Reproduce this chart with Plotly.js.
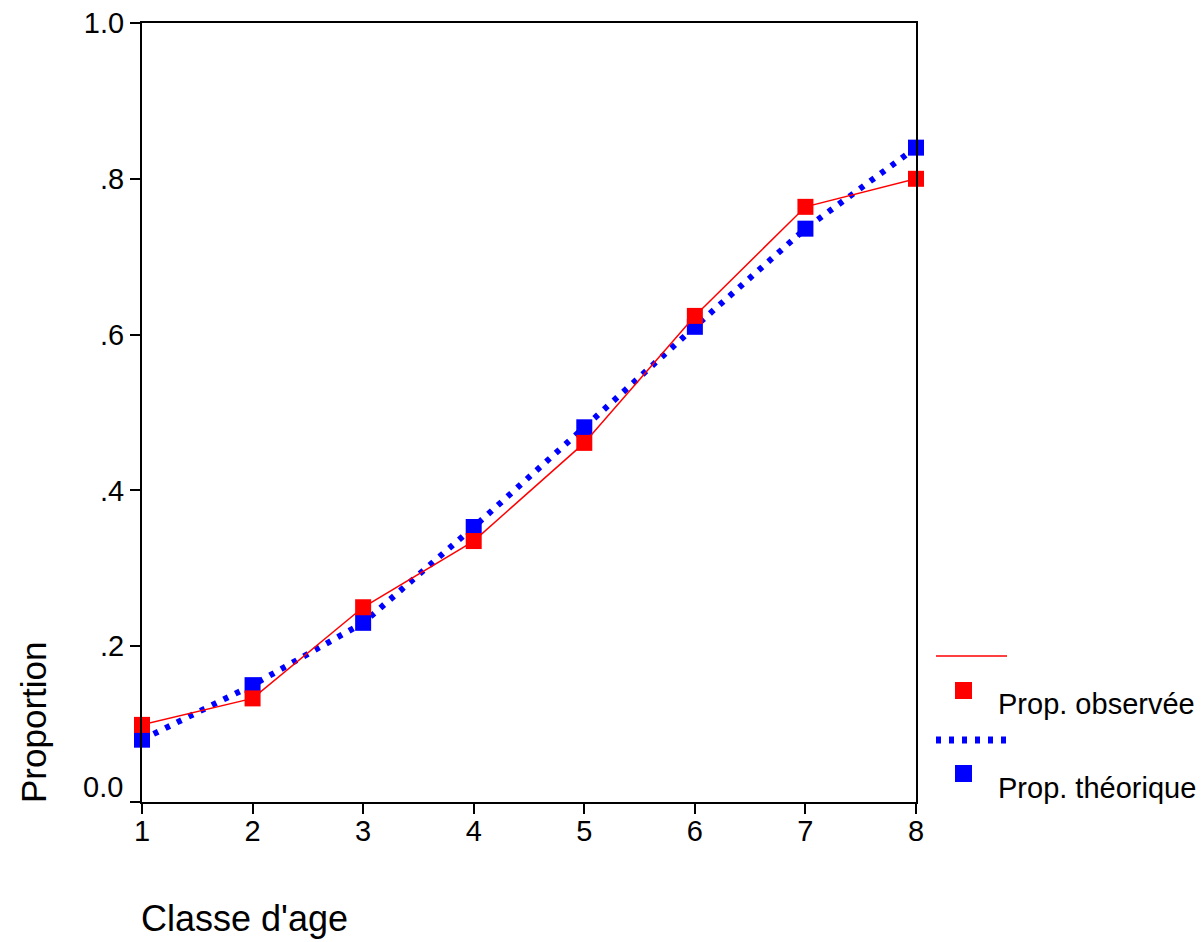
<!DOCTYPE html>
<html>
<head>
<meta charset="utf-8">
<script src="https://cdn.plot.ly/plotly-3.0.1.min.js"></script>
<style>
  html, body { margin: 0; padding: 0; background: #ffffff; }
  #chart { width: 1202px; height: 942px; }
</style>
</head>
<body>
<div id="chart"></div>
<script>
// Age classes and the observed / fitted proportions for each class
const ageClasses = [1, 2, 3, 4, 5, 6, 7, 8];
const observedProp = [0.099, 0.133, 0.250, 0.335, 0.461, 0.624, 0.764, 0.800];
const theoreticalProp = [0.080, 0.150, 0.230, 0.353, 0.481, 0.610, 0.736, 0.840];

const yTickVals = [0, 0.2, 0.4, 0.6, 0.8, 1.0];
const yTickText = ['', '.2', '.4', '.6', '.8', '1.0'];
const xTickVals = [1, 2, 3, 4, 5, 6, 7, 8];

const seriesNames = ['Prop. observée', 'Prop. théorique'];

const FONT = 'Liberation Sans, Arial, sans-serif';
const TICK_SIZE = 29;
const RED = '#ff0000';
const BLUE = '#0000ff';

const theoretical = {
  x: ageClasses,
  y: theoreticalProp,
  type: 'scatter',
  mode: 'lines+markers',
  name: seriesNames[1],
  line: { color: BLUE, width: 6, dash: '5px,8px' },
  marker: { symbol: 'square', size: 16, color: BLUE, line: { width: 0 } },
  cliponaxis: false,
  showlegend: false
};

const observed = {
  x: ageClasses,
  y: observedProp,
  type: 'scatter',
  mode: 'lines+markers',
  name: seriesNames[0],
  line: { color: RED, width: 1.5 },
  marker: { symbol: 'square', size: 16, color: RED, line: { width: 0 } },
  cliponaxis: false,
  showlegend: false
};

// plot area geometry (pixels) used to place the hand-drawn key in paper units
const L = 142, R = 916, T = 23, B = 802;
const W = 1202, H = 942;
const px = (x) => (x - L) / (R - L);
const py = (y) => (B - y) / (B - T);

const shapes = [
  // key: observed line and marker
  { type: 'line', xref: 'paper', yref: 'paper', x0: px(936), x1: px(1007), y0: py(656), y1: py(656),
    line: { color: RED, width: 1.5 } },
  { type: 'rect', xref: 'paper', yref: 'paper', x0: px(955), x1: px(972), y0: py(682), y1: py(699),
    fillcolor: RED, line: { width: 0 } },
  // key: theoretical line and marker
  { type: 'line', xref: 'paper', yref: 'paper', x0: px(936), x1: px(1007), y0: py(740), y1: py(740),
    line: { color: BLUE, width: 7, dash: '5px,8px' } },
  { type: 'rect', xref: 'paper', yref: 'paper', x0: px(955), x1: px(972), y0: py(765), y1: py(782),
    fillcolor: BLUE, line: { width: 0 } }
];

const annotations = [
  { text: seriesNames[0], xref: 'paper', yref: 'paper', x: px(996), y: py(704),
    xanchor: 'left', yanchor: 'middle', showarrow: false, font: { family: FONT, size: 29, color: '#000' } },
  { text: seriesNames[1], xref: 'paper', yref: 'paper', x: px(996), y: py(788),
    xanchor: 'left', yanchor: 'middle', showarrow: false, font: { family: FONT, size: 29, color: '#000' } },
  // zero label sits a little above its tick
  { text: '0.0', xref: 'paper', yref: 'y', x: px(125), y: 0, yshift: 15,
    xanchor: 'right', yanchor: 'middle', showarrow: false, font: { family: FONT, size: TICK_SIZE, color: '#000' } },
  // axis titles
  { text: "Classe d'age", xref: 'paper', yref: 'paper', x: px(139), y: py(918),
    xanchor: 'left', yanchor: 'middle', showarrow: false, font: { family: FONT, size: 36, color: '#000' } },
  { text: 'Proportion', xref: 'paper', yref: 'paper', x: px(33), y: py(722), textangle: -90,
    xanchor: 'center', yanchor: 'middle', showarrow: false, font: { family: FONT, size: 35, color: '#000' } }
];

const axisCommon = {
  tickmode: 'array',
  ticks: 'outside',
  ticklen: 10,
  tickwidth: 2,
  tickcolor: '#000',
  showline: true,
  linecolor: '#000',
  linewidth: 2,
  mirror: true,
  showgrid: false,
  zeroline: false,
  tickfont: { family: FONT, size: TICK_SIZE, color: '#000' }
};

const layout = {
  width: W,
  height: H,
  margin: { l: L, r: W - R, t: T, b: H - B, pad: 0 },
  paper_bgcolor: '#ffffff',
  plot_bgcolor: '#ffffff',
  showlegend: false,
  font: { family: FONT, size: TICK_SIZE, color: '#000' },
  xaxis: Object.assign({}, axisCommon, {
    range: [1, 8],
    tickvals: xTickVals,
    ticktext: xTickVals.map(String),
    ticklabelstandoff: -8
  }),
  yaxis: Object.assign({}, axisCommon, {
    range: [0, 1],
    tickvals: yTickVals,
    ticktext: yTickText
  }),
  shapes: shapes,
  annotations: annotations
};

Plotly.newPlot('chart', [theoretical, observed], layout, { displayModeBar: false, staticPlot: true });
</script>
</body>
</html>
